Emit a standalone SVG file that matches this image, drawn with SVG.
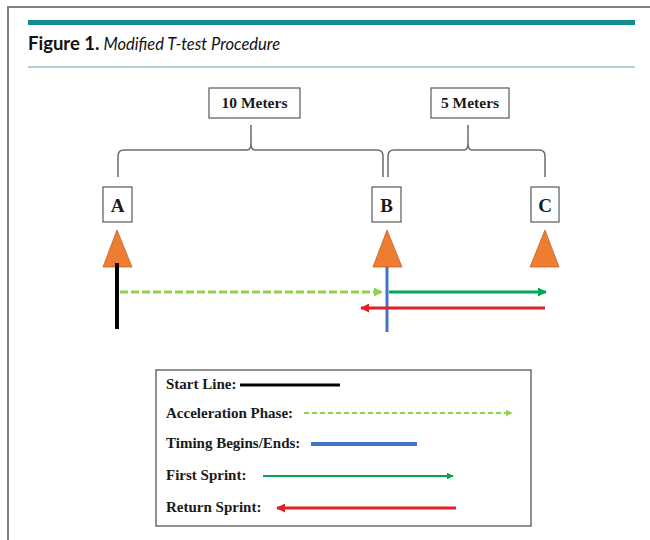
<svg xmlns="http://www.w3.org/2000/svg" width="650" height="540" viewBox="0 0 650 540">
<style>
.frame{fill:none;stroke:#7f7f7f;stroke-width:2}
.lbl{font-family:"Liberation Serif","Times New Roman",serif;font-weight:bold;fill:#1a1a1a}
.leg{font-size:15px}
.box{fill:#fff;stroke:#595959;stroke-width:1.2}
.brace{fill:none;stroke:#6b6b6b;stroke-width:1.5}
.cone{fill:#ed7d31;stroke:#c0622a;stroke-width:0.8}
</style>
<defs>
<marker id="ahLG" viewBox="0 0 10 10" refX="9" refY="5" markerWidth="3" markerHeight="3" orient="auto" markerUnits="strokeWidth"><path d="M0,0L10,5L0,10z" fill="#92d050"/></marker>
<marker id="ahG" viewBox="0 0 10 10" refX="9" refY="5" markerWidth="3" markerHeight="3" orient="auto" markerUnits="strokeWidth"><path d="M0,0L10,5L0,10z" fill="#00a651"/></marker>
<marker id="ahR" viewBox="0 0 10 10" refX="9" refY="5" markerWidth="3" markerHeight="3" orient="auto" markerUnits="strokeWidth"><path d="M0,0L10,5L0,10z" fill="#e31e24"/></marker>
<marker id="ahLGs" viewBox="0 0 10 10" refX="9" refY="5" markerWidth="3.5" markerHeight="3.5" orient="auto" markerUnits="strokeWidth"><path d="M0,0L10,5L0,10z" fill="#92d050"/></marker>
<marker id="ahGs" viewBox="0 0 10 10" refX="9" refY="5" markerWidth="3.5" markerHeight="3.5" orient="auto" markerUnits="strokeWidth"><path d="M0,0L10,5L0,10z" fill="#00a651"/></marker>
<marker id="ahRs" viewBox="0 0 10 10" refX="9" refY="5" markerWidth="3" markerHeight="3" orient="auto" markerUnits="strokeWidth"><path d="M0,0L10,5L0,10z" fill="#e31e24"/></marker>
</defs>
<rect width="650" height="540" fill="#fff"/>
<path class="frame" d="M8,541V7H651"/>
<rect x="28" y="20" width="607" height="5" fill="#168c8e"/>
<line x1="28" y1="67" x2="635" y2="67" stroke="#55a9ab" stroke-width="1.2"/>
<text x="28" y="50" font-family="Lato,'Open Sans',sans-serif" font-size="18.5" fill="#111"><tspan font-weight="bold">Figure 1.</tspan><tspan font-style="italic" font-size="16.5" dx="4">Modified T-test Procedure</tspan></text>

<g id="label-10m"><rect class="box" x="209" y="88" width="91" height="30"/><text class="lbl" x="254.5" y="108" font-size="15.5" text-anchor="middle">10 Meters</text></g>
<g id="label-5m"><rect class="box" x="431" y="88" width="78" height="30"/><text class="lbl" x="470" y="108" font-size="15.5" text-anchor="middle">5 Meters</text></g>
<g id="brace-10m"><path class="brace" d="M118,177V156Q118,150 124,150H247Q251,150 251,143V125M251,143Q251,150 255,150H377Q383,150 383,156V177"/></g>
<g id="brace-5m"><path class="brace" d="M388,177V156Q388,150 394,150H464Q468,150 468,143V125M468,143Q468,150 472,150H539Q545,150 545,156V177"/></g>

<g id="node-A"><rect class="box" x="103" y="187" width="29" height="35"/><text class="lbl" x="117.5" y="212" font-size="19" text-anchor="middle">A</text><polygon class="cone" points="117,230 132,267 103,267"/></g>
<g id="node-B"><rect class="box" x="372" y="187" width="29" height="35"/><text class="lbl" x="386.5" y="212" font-size="19" text-anchor="middle">B</text><polygon class="cone" points="387,230 402,267 373,267"/></g>
<g id="node-C"><rect class="box" x="531" y="187" width="28" height="35"/><text class="lbl" x="545" y="212" font-size="19" text-anchor="middle">C</text><polygon class="cone" points="545,230 559,267 530,267"/></g>

<g id="connectors">
<line x1="117" y1="263" x2="117" y2="329" stroke="#000" stroke-width="4"/>
<line x1="387" y1="267" x2="387" y2="332" stroke="#4472c4" stroke-width="3"/>
<line x1="120" y1="292" x2="382" y2="292" stroke="#92d050" stroke-width="3" stroke-dasharray="8,3" marker-end="url(#ahLG)"/>
<line x1="389" y1="292" x2="546" y2="292" stroke="#00a651" stroke-width="3" marker-end="url(#ahG)"/>
<line x1="545" y1="308" x2="361" y2="308" stroke="#e31e24" stroke-width="3" marker-end="url(#ahR)"/>
</g>

<g id="legend">
<rect x="156" y="370" width="375" height="156" fill="#fff" stroke="#6b6b6b" stroke-width="1.5"/>
<text class="lbl leg" x="166" y="389">Start Line:</text>
<line x1="240" y1="385" x2="340" y2="385" stroke="#000" stroke-width="3"/>
<text class="lbl leg" x="166" y="418">Acceleration Phase:</text>
<line x1="304" y1="413" x2="512" y2="413" stroke="#92d050" stroke-width="2" stroke-dasharray="5,3" marker-end="url(#ahLGs)"/>
<text class="lbl leg" x="166" y="448">Timing Begins/Ends:</text>
<line x1="311" y1="444" x2="417" y2="444" stroke="#4472c4" stroke-width="4"/>
<text class="lbl leg" x="166" y="480">First Sprint:</text>
<line x1="263" y1="476" x2="453" y2="476" stroke="#00a651" stroke-width="2" marker-end="url(#ahGs)"/>
<text class="lbl leg" x="166" y="512">Return Sprint:</text>
<line x1="456" y1="508" x2="277" y2="508" stroke="#e31e24" stroke-width="3" marker-end="url(#ahRs)"/>
</g>
</svg>
